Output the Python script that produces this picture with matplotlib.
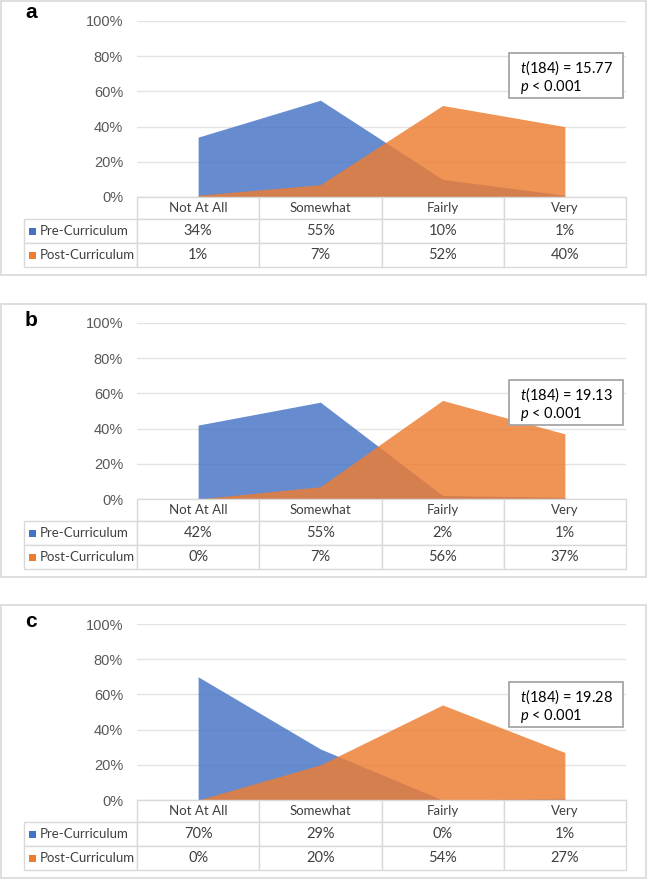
import matplotlib
matplotlib.use("Agg")
import matplotlib.pyplot as plt
from matplotlib.patches import Rectangle
from matplotlib.table import Table

plt.rcParams['font.family'] = ['Lato', 'DejaVu Sans']
plt.rcParams['mathtext.fontset'] = 'custom'
plt.rcParams['mathtext.it'] = 'Lato:italic'
plt.rcParams['mathtext.rm'] = 'Lato'

# Data
categories = ["Not At All", "Somewhat", "Fairly", "Very"]
series_names = ["Pre-Curriculum", "Post-Curriculum"]
panel_labels = ["a", "b", "c"]
pre_values = [[34, 55, 10, 1], [42, 55, 2, 1], [70, 29, 0, 1]]
post_values = [[1, 7, 52, 40], [0, 7, 56, 37], [0, 20, 54, 27]]
t_values = ["15.77", "19.13", "19.28"]
df_value = 184
y_ticks = [0, 20, 40, 60, 80, 100]

blue = "#4472C4"
orange = "#ED7D31"
grid_col = "#E4E4E4"
line_col = "#D9D9D9"
text_col = "#404040"

# Layout in pixels (figure is 649 x 880)
W, H = 649, 880
grid_tops = [21, 323, 624]
border_tops = [1, 304, 605]
letter_base = [18, 326, 627]
box_tops = [53, 380, 682]
plot_l, plot_r = 137, 626
table_l = 24
grid_h = 176
row_h = [22, 24, 24]


def fbox(x0, y0, x1, y1):
    return [x0 / W, 1 - y1 / H, (x1 - x0) / W, (y1 - y0) / H]


fig = plt.figure(figsize=(W / 100, H / 100), dpi=100)

for i in range(3):
    top = grid_tops[i]
    bottom = top + grid_h

    # panel border
    fig.add_artist(Rectangle((1 / W, 1 - (bottom + 78) / H), 645 / W, (bottom + 78 - border_tops[i]) / H,
                             transform=fig.transFigure, fill=False, edgecolor=line_col, lw=1.2))

    ax = fig.add_axes(fbox(plot_l, top, plot_r, bottom))
    x = range(len(categories))
    ax.fill_between(x, pre_values[i], color=blue, alpha=0.82, lw=0, zorder=2)
    ax.fill_between(x, post_values[i], color=orange, alpha=0.82, lw=0, zorder=3)
    ax.set_xlim(-0.5, len(categories) - 0.5)
    ax.set_ylim(0, 100)
    ax.set_xticks([])
    ax.set_yticks(y_ticks)
    ax.set_yticklabels([f"{v}%" for v in y_ticks], family="Liberation Sans", fontsize=10.5, color="#595959")
    ax.tick_params(axis="y", length=0, pad=10)
    ax.yaxis.grid(True, color=grid_col, lw=1)
    ax.set_axisbelow(True)
    for s in ax.spines.values():
        s.set_visible(False)

    # stats box
    bt = box_tops[i]
    fig.add_artist(Rectangle((509 / W, 1 - (bt + 45) / H), 114 / W, 45 / H, transform=fig.transFigure,
                             facecolor="white", edgecolor="#A6A6A6", lw=1.3, zorder=10))
    fig.text(520 / W, 1 - (bt + 20) / H, rf"$t$({df_value}) = {t_values[i]}", fontsize=10.5,
             color="black", va="baseline", zorder=11)
    fig.text(520 / W, 1 - (bt + 38) / H, r"$p$ < 0.001", fontsize=10.5,
             color="black", va="baseline", zorder=11)

    # panel letter
    fig.text(25 / W, 1 - letter_base[i] / H, panel_labels[i], fontsize=15, fontweight="bold",
             family="Liberation Sans", va="baseline")

    # data table
    th = sum(row_h)
    tax = fig.add_axes(fbox(table_l, bottom, plot_r, bottom + th))
    tax.set_axis_off()
    tb = Table(tax, bbox=[0, 0, 1, 1])
    lab_w = plot_l - table_l
    col_w = (plot_r - plot_l) / len(categories)
    for j, cat in enumerate(categories):
        c = tb.add_cell(0, j + 1, col_w, row_h[0], text=cat, loc="center", edgecolor=line_col)
        c.get_text().set_color(text_col)
        c.get_text().set_fontsize(9.5)
    rows = [pre_values[i], post_values[i]]
    for r, (name, vals) in enumerate(zip(series_names, rows)):
        c = tb.add_cell(r + 1, 0, lab_w, row_h[r + 1], text=name, loc="left", edgecolor=line_col)
        c.PAD = 16 / lab_w
        c.get_text().set_color(text_col)
        c.get_text().set_fontsize(9.5)
        for j, v in enumerate(vals):
            c = tb.add_cell(r + 1, j + 1, col_w, row_h[r + 1], text=f"{v}%", loc="center", edgecolor=line_col)
            c.get_text().set_color(text_col)
            c.get_text().set_fontsize(10.5)
    tb.auto_set_font_size(False)
    for cell in tb.get_celld().values():
        cell.set_linewidth(1.0)
    tax.add_table(tb)

    # legend keys in the row label cells
    for r, col in enumerate([blue, orange]):
        yc = bottom + row_h[0] + row_h[1] * r + row_h[r + 1] / 2
        fig.add_artist(Rectangle((29 / W, 1 - (yc + 4) / H), 7 / W, 7 / H, transform=fig.transFigure,
                                 facecolor=col, edgecolor="none", zorder=12))

fig.savefig("out.png", dpi=100)
